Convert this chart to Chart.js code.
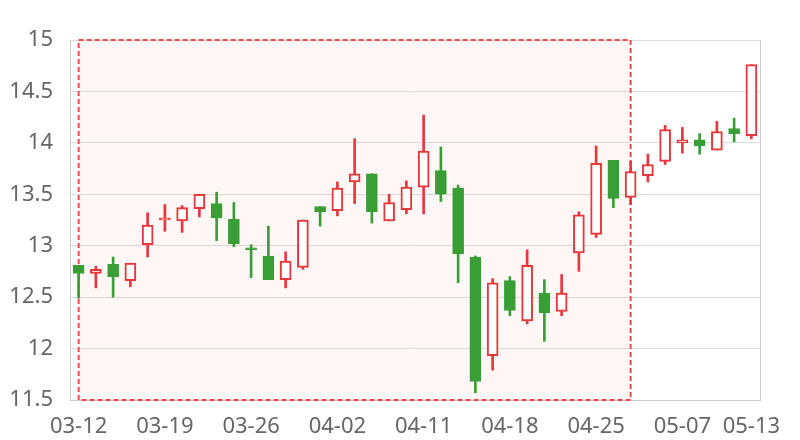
<!DOCTYPE html>
<html>
<head>
<meta charset="utf-8">
<script src="https://cdn.jsdelivr.net/npm/chart.js@4/dist/chart.umd.min.js"></script>
<style>
  html, body { margin: 0; padding: 0; background: #fff; }
  #wrap { width: 800px; height: 440px; }
</style>
</head>
<body>
<div id="wrap"><canvas id="kChart"></canvas></div>
<script>
// Trading days shown on the x axis
const dates = [
    '03-12', '03-13', '03-14', '03-15',
    '03-18', '03-19', '03-20', '03-21', '03-22',
    '03-25', '03-26', '03-27', '03-28', '03-29',
    '04-01', '04-02', '04-03',
    '04-08', '04-09', '04-10', '04-11', '04-12',
    '04-15', '04-16', '04-17', '04-18', '04-19',
    '04-22', '04-23', '04-24', '04-25', '04-26',
    '04-29', '04-30',
    '05-06', '05-07', '05-08', '05-09', '05-10',
    '05-13'
];
// Only these dates get a visible tick label
const shownLabels = ['03-12', '03-19', '03-26', '04-02', '04-11', '04-18', '04-25', '05-07', '05-13'];

// OHLC values
const openPrices = [
    12.81, 12.73, 12.82, 12.66,
    13.01, 13.25, 13.24, 13.36, 13.41,
    13.26, 12.98, 12.90, 12.67, 12.79,
    13.38, 13.34, 13.62,
    13.70, 13.24, 13.35, 13.57, 13.73,
    13.56, 12.89, 11.93, 12.66, 12.27,
    12.54, 12.36, 12.93, 13.11, 13.83,
    13.47, 13.68,
    13.82, 14.00, 14.03, 13.93, 14.14,
    14.07
];
const closePrices = [
    12.73, 12.77, 12.70, 12.83,
    13.20, 13.27, 13.37, 13.50, 13.27,
    13.02, 12.96, 12.67, 12.85, 13.25,
    13.33, 13.56, 13.70,
    13.33, 13.42, 13.57, 13.92, 13.50,
    12.92, 11.68, 12.64, 12.37, 12.81,
    12.35, 12.54, 13.30, 13.80, 13.46,
    13.72, 13.79,
    14.13, 14.03, 13.97, 14.11, 14.09,
    14.76
];
const lowPrices = [
    12.49, 12.59, 12.50, 12.60,
    12.89, 13.14, 13.13, 13.28, 13.05,
    12.99, 12.69, 12.67, 12.59, 12.77,
    13.19, 13.29, 13.41,
    13.22, 13.24, 13.31, 13.31, 13.43,
    12.64, 11.57, 11.79, 12.32, 12.24,
    12.07, 12.32, 12.75, 13.08, 13.37,
    13.40, 13.62,
    13.79, 13.90, 13.89, 13.93, 14.01,
    14.04
];
const highPrices = [
    12.81, 12.80, 12.89, 12.83,
    13.32, 13.40, 13.39, 13.50, 13.52,
    13.42, 13.01, 13.19, 12.94, 13.25,
    13.38, 13.62, 14.04,
    13.70, 13.50, 13.63, 14.27, 13.96,
    13.59, 12.90, 12.68, 12.70, 12.96,
    12.67, 12.72, 13.33, 13.97, 13.83,
    13.82, 13.89,
    14.17, 14.15, 14.09, 14.21, 14.24,
    14.76
];

// Highlighted range (marked area) by date
const markStart = '03-12';
const markEnd = '04-29';

const yTicks = [11.5, 12, 12.5, 13, 13.5, 14, 14.5, 15];

const upColor = '#e8363b';
const downColor = '#389e35';

const isUp = openPrices.map((o, i) => closePrices[i] >= o);

const bodyData = openPrices.map((o, i) => [o, closePrices[i]]);
const wickData = lowPrices.map((l, i) => [l, highPrices[i]]);

// Dashed marked area behind the candles
const markAreaPlugin = {
    id: 'markArea',
    beforeDatasetsDraw(chart) {
        const { ctx, scales: { x, y } } = chart;
        const x0 = x.getPixelForValue(dates.indexOf(markStart));
        const x1 = x.getPixelForValue(dates.indexOf(markEnd));
        const y0 = y.getPixelForValue(yTicks[yTicks.length - 1]);
        const y1 = y.getPixelForValue(yTicks[0]);
        ctx.save();
        ctx.fillStyle = 'rgba(255, 70, 70, 0.05)';
        ctx.fillRect(x0, y0, x1 - x0, y1 - y0);
        ctx.strokeStyle = '#ee4b4b';
        ctx.lineWidth = 2;
        ctx.setLineDash([5, 3]);
        ctx.strokeRect(x0, y0, x1 - x0, y1 - y0);
        ctx.restore();
    },
    afterDraw(chart) {
        // right-hand frame line
        const { ctx, chartArea } = chart;
        ctx.save();
        ctx.strokeStyle = '#cccccc';
        ctx.lineWidth = 1;
        ctx.beginPath();
        ctx.moveTo(Math.round(chartArea.right) + 0.5, chartArea.top);
        ctx.lineTo(Math.round(chartArea.right) + 0.5, chartArea.bottom);
        ctx.stroke();
        ctx.restore();
    }
};

const ctx = document.getElementById('kChart').getContext('2d');
new Chart(ctx, {
    type: 'bar',
    data: {
        labels: dates,
        datasets: [{
            label: 'body',
            data: bodyData,
            grouped: false,
            order: 1,
            barThickness: 11,
            borderSkipped: false,
            borderWidth: isUp.map(u => u ? 2 : 1),
            backgroundColor: isUp.map(u => u ? '#ffffff' : downColor),
            borderColor: isUp.map(u => u ? upColor : downColor)
        }, {
            label: 'wick',
            data: wickData,
            grouped: false,
            order: 2,
            barThickness: 2,
            borderWidth: 0,
            backgroundColor: isUp.map(u => u ? upColor : downColor)
        }]
    },
    options: {
        responsive: true,
        maintainAspectRatio: false,
        animation: false,
        layout: {
            padding: { top: 40, right: 40, left: 0, bottom: 0 }
        },
        plugins: {
            legend: { display: false },
            tooltip: { enabled: false }
        },
        scales: {
            x: {
                offset: true,
                grid: { display: false },
                border: { display: true, color: '#cccccc' },
                ticks: {
                    autoSkip: false,
                    maxRotation: 0,
                    padding: 6,
                    color: '#666666',
                    font: { family: 'Noto Sans', size: 22 },
                    callback: function(value) {
                        const lab = this.getLabelForValue(value);
                        return shownLabels.includes(lab) ? lab : '';
                    }
                },
                afterFit(scale) { scale.height = 40; }
            },
            y: {
                min: 11.5,
                max: 15,
                afterBuildTicks(scale) {
                    scale.ticks = yTicks.map(v => ({ value: v }));
                },
                grid: { color: '#dddddd', drawTicks: false },
                border: { display: true, color: '#cccccc' },
                ticks: {
                    padding: 17,
                    color: '#666666',
                    font: { family: 'Noto Sans', size: 22 },
                    callback: v => String(v)
                },
                afterFit(scale) { scale.width = 70; }
            }
        }
    },
    plugins: [markAreaPlugin]
});
</script>
</body>
</html>
